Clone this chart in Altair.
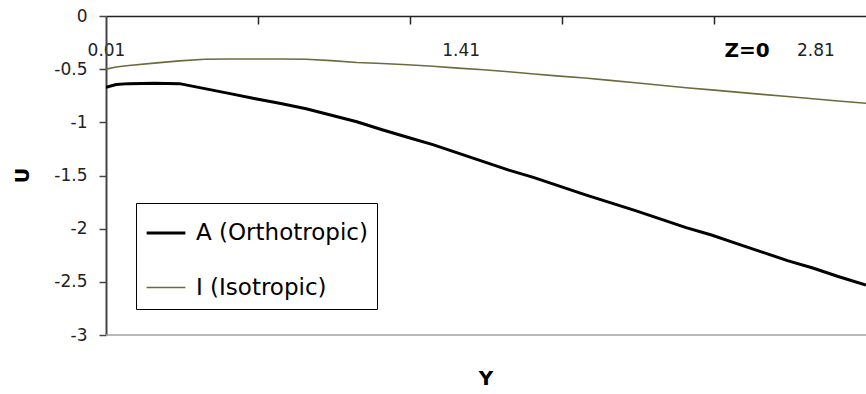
import json

import altair as alt
import pandas as pd

# Sampled positions along Y and the displacement U of each plate model
Y_VALUES = [0.01, 0.05, 0.1, 0.2, 0.3, 0.4, 0.5, 0.6, 0.7, 0.8, 0.9, 1.0,
            1.1, 1.2, 1.3, 1.4, 1.5, 1.6, 1.7, 1.8, 1.9, 2.0, 2.1, 2.2,
            2.3, 2.4, 2.5, 2.6, 2.7, 2.8, 2.9, 3.01]
U_ORTHO = [-0.670, -0.645, -0.636, -0.632, -0.636, -0.683, -0.730, -0.778,
           -0.823, -0.872, -0.933, -0.995, -1.070, -1.140, -1.210, -1.290,
           -1.370, -1.450, -1.520, -1.600, -1.680, -1.755, -1.830, -1.910,
           -1.990, -2.060, -2.140, -2.220, -2.300, -2.370, -2.450, -2.530]
U_ISO = [-0.500, -0.480, -0.465, -0.443, -0.422, -0.407, -0.405, -0.405,
         -0.405, -0.407, -0.420, -0.438, -0.447, -0.458, -0.473, -0.490,
         -0.506, -0.525, -0.545, -0.565, -0.583, -0.605, -0.628, -0.652,
         -0.675, -0.695, -0.716, -0.737, -0.757, -0.778, -0.800, -0.821]

SERIES = ["A (Orthotropic)", "I (Isotropic)"]
SERIES_COLORS = ["#000000", "#6b6b3e"]
SERIES_WIDTHS = [3.0, 1.6]

Y_TICKS = [0.61, 1.21, 1.81, 2.41]
Y_LABELS = [0.01, 1.41, 2.81]
Y_DOMAIN = [0.01, 3.01]
U_TICKS = [0, -0.5, -1, -1.5, -2, -2.5, -3]
U_DOMAIN = [-3, 0]

rows = []
for name, values in zip(SERIES, [U_ORTHO, U_ISO]):
    for y, u in zip(Y_VALUES, values):
        rows.append({"Y": y, "U": u, "series": name})
df = pd.DataFrame(rows)

W, H = 760, 319
FONT = "DejaVu Sans"

label_list = json.dumps(Y_LABELS)
tick_list = json.dumps(Y_TICKS)

x_axis = alt.Axis(
    orient="bottom",
    offset=-H,
    title=None,
    values=sorted(Y_TICKS + Y_LABELS),
    labelExpr=f"indexof({label_list}, datum.value) >= 0 ? format(datum.value, '.2f') : ''",
    tickOpacity={"condition": {"test": f"indexof({tick_list}, datum.value) >= 0", "value": 1}, "value": 0},
    tickSize=8,
    tickColor="#222222",
    tickWidth=1.5,
    domainColor="#222222",
    domainWidth=1.5,
    labelFont=FONT,
    labelFontSize=17,
    labelColor="#222222",
    labelPadding=26,
    labelBaseline="middle",
    labelFlush=False,
    labelOverlap=False,
    grid=False,
)

y_axis = alt.Axis(
    values=U_TICKS,
    labelExpr="'' + datum.value",
    title="U",
    titleFont=FONT,
    titleFontSize=19,
    titleFontWeight="bold",
    titleColor="#000000",
    titleAngle=270,
    titleX=-84,
    titleY=159,
    titleAlign="center",
    titleBaseline="middle",
    tickSize=7,
    tickColor="#444444",
    tickWidth=1.5,
    domainColor="#444444",
    domainWidth=2,
    labelFont=FONT,
    labelFontSize=17,
    labelColor="#222222",
    labelPadding=12,
    labelFlush=False,
    labelOverlap=False,
    grid=False,
)

x_enc = alt.X("Y:Q", scale=alt.Scale(domain=Y_DOMAIN, nice=False, zero=False), axis=x_axis)
y_enc = alt.Y("U:Q", scale=alt.Scale(domain=U_DOMAIN, nice=False, zero=False), axis=y_axis)


def series_legend():
    return alt.Legend(
        title=None,
        orient="none",
        legendX=30,
        legendY=187,
        strokeColor="#000000",
        fillColor="#ffffff",
        padding=9,
        cornerRadius=0,
        symbolType="stroke",
        symbolSize=1500,
        labelFont=FONT,
        labelFontSize=23,
        labelColor="#000000",
        labelOffset=9,
        labelLimit=400,
        rowPadding=22,
    )


lines = alt.Chart(df).mark_line(clip=True).encode(
    x=x_enc,
    y=y_enc,
    color=alt.Color("series:N", scale=alt.Scale(domain=SERIES, range=SERIES_COLORS),
                    legend=series_legend()),
    strokeWidth=alt.StrokeWidth("series:N", scale=alt.Scale(domain=SERIES, range=SERIES_WIDTHS),
                                legend=series_legend()),
)

# Lower edge of the plot area, drawn at U = -3
floor = alt.Chart(pd.DataFrame({"k": [0]})).mark_rule(color="#a0a0a0", strokeWidth=1.5).encode(
    x=alt.datum(Y_DOMAIN[0]),
    x2=alt.datum(Y_DOMAIN[1]),
    y=alt.datum(U_DOMAIN[0]),
)

note = alt.Chart(pd.DataFrame({"label": ["Z=0"]})).mark_text(
    font=FONT, fontSize=20, fontWeight="bold", color="#000000", align="center", baseline="middle"
).encode(text="label:N", x=alt.value(641), y=alt.value(35))

chart = alt.layer(floor, lines, note).properties(
    width=W,
    height=H,
    padding={"left": 106, "top": 16, "right": 0, "bottom": 59},
    autosize=alt.AutoSizeParams(type="none"),
    background="#ffffff",
    title=alt.TitleParams(
        text="Y", orient="bottom", anchor="middle", frame="group", offset=26,
        font=FONT, fontSize=20, fontWeight="bold", color="#000000",
    ),
).configure_view(stroke=None)

chart.save("out.html", embed_options={"renderer": "svg", "actions": False})
